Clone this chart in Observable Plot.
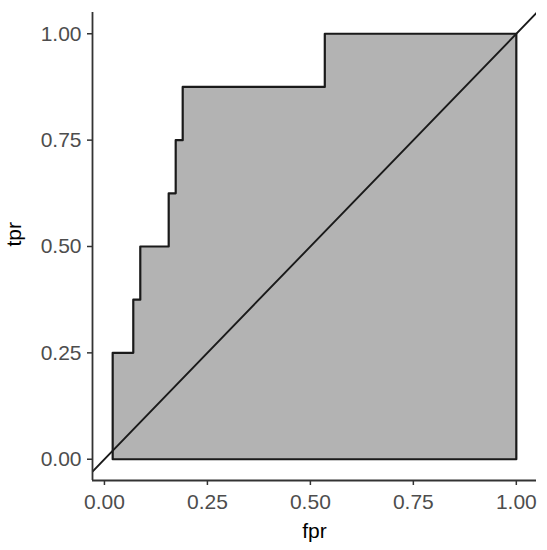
<!DOCTYPE html>
<html>
<head>
<meta charset="utf-8">
<script src="https://cdn.jsdelivr.net/npm/d3@7"></script>
<script src="https://cdn.jsdelivr.net/npm/@observablehq/plot@0.6"></script>
<style>
  html, body { margin: 0; padding: 0; background: #fff; }
  #chart svg { display: block; }
</style>
</head>
<body>
<div id="chart"></div>
<script>
// ROC step points (fpr, tpr)
const rocFpr = [0.02, 0.07, 0.087, 0.156, 0.173, 0.19, 0.535, 1.00];
const rocTpr = [0.25, 0.375, 0.5, 0.625, 0.75, 0.875, 1.00, 1.00];
const xTicks = [0, 0.25, 0.5, 0.75, 1];
const yTicks = [0, 0.25, 0.5, 0.75, 1];
const xDomain = [-0.029, 1.049];
const yDomain = [-0.05, 1.05];

// build closed polygon: start at (fpr0, 0), step up, across to (1,1), down to (1,0), back
const poly = [{x: rocFpr[0], y: 0}];
for (let i = 0; i < rocFpr.length; i++) {
  if (i > 0) poly.push({x: rocFpr[i], y: rocTpr[i - 1]});
  poly.push({x: rocFpr[i], y: rocTpr[i]});
}
poly.push({x: rocFpr[rocFpr.length - 1], y: 0});
poly.push({x: rocFpr[0], y: 0});

const diag = [{x: xDomain[0], y: xDomain[0]}, {x: xDomain[1], y: xDomain[1]}];

const font = "'Liberation Sans', Arial, Helvetica, sans-serif";
const chart = Plot.plot({
  width: 547,
  height: 550,
  marginLeft: 92,
  marginRight: 11,
  marginTop: 12,
  marginBottom: 70,
  style: {fontFamily: font, background: "#fff"},
  x: {domain: xDomain},
  y: {domain: yDomain},
  marks: [
    Plot.line(poly, {x: "x", y: "y", fill: "#b3b3b3", stroke: "#1a1a1a", strokeWidth: 2.2, curve: "linear"}),
    Plot.line(diag, {x: "x", y: "y", stroke: "#1a1a1a", strokeWidth: 1.9, clip: true}),
    Plot.ruleX([xDomain[0]], {stroke: "#333", strokeWidth: 1.8}),
    Plot.ruleY([yDomain[0]], {stroke: "#333", strokeWidth: 1.8}),
    Plot.axisX({ticks: xTicks, tickFormat: d3.format(".2f"), tickSize: 5, tickPadding: 9, fontSize: 21, color: "#4d4d4d", stroke: "#333", strokeWidth: 1.5, label: null}),
    Plot.axisY({ticks: yTicks, tickFormat: d3.format(".2f"), tickSize: 5, tickPadding: 6, fontSize: 21, color: "#4d4d4d", stroke: "#333", strokeWidth: 1.5, label: null}),
    Plot.text(["fpr"], {frameAnchor: "bottom", dy: 51, fontSize: 21, fill: "#000", lineAnchor: "middle"}),
    Plot.text(["tpr"], {frameAnchor: "left", dx: -78, rotate: -90, fontSize: 21, fill: "#000", lineAnchor: "middle"})
  ]
});
document.getElementById("chart").appendChild(chart);
</script>
</body>
</html>
